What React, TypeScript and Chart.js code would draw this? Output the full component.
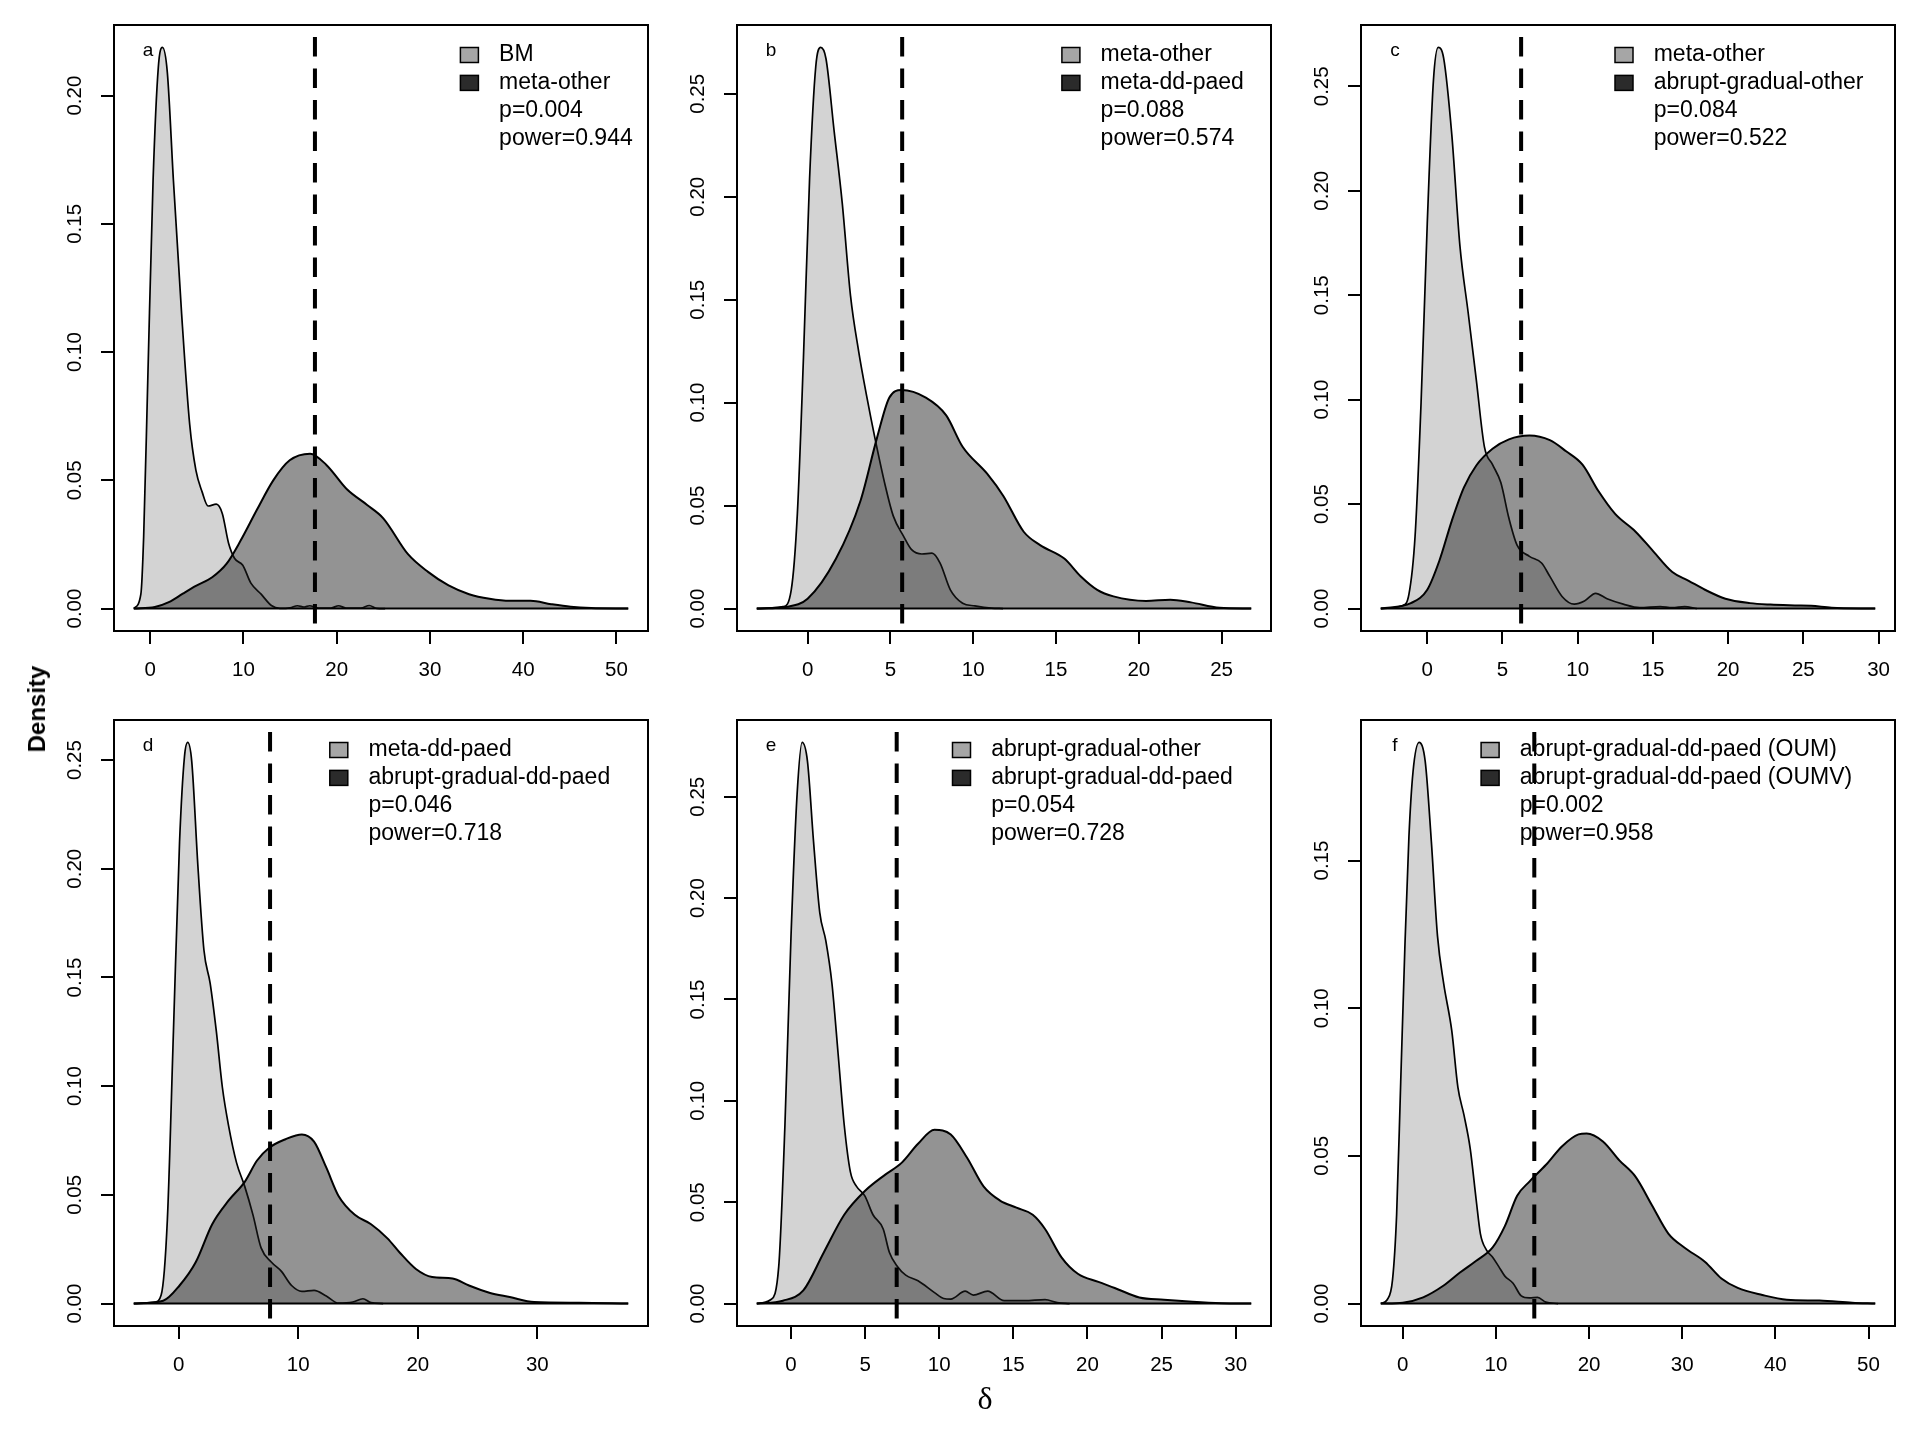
import React, { useEffect, useRef } from 'react';
import { Chart, registerables } from 'chart.js';

Chart.register(...registerables);
Chart.defaults.font.family = '"Liberation Sans", Arial, Helvetica, sans-serif';

type Pt = [number, number];

// ---------------- data ----------------
const panelLetters = ['a', 'b', 'c', 'd', 'e', 'f'];
const legendNull = ['BM', 'meta-other', 'meta-other', 'meta-dd-paed', 'abrupt-gradual-other', 'abrupt-gradual-dd-paed (OUM)'];
const legendAlt = ['meta-other', 'meta-dd-paed', 'abrupt-gradual-other', 'abrupt-gradual-dd-paed', 'abrupt-gradual-dd-paed', 'abrupt-gradual-dd-paed (OUMV)'];
const pLabels = ['p=0.004', 'p=0.088', 'p=0.084', 'p=0.046', 'p=0.054', 'p=0.002'];
const powerLabels = ['power=0.944', 'power=0.574', 'power=0.522', 'power=0.718', 'power=0.728', 'power=0.958'];
const observedDelta = [17.67, 5.71, 6.24, 7.64, 7.13, 14.12];
const deltaRange: Pt[] = [[-1.76, 51.27], [-3.07, 26.79], [-3.09, 29.78], [-3.76, 37.6], [-2.31, 31.05], [-2.36, 50.72]];

const xTicksA = [0, 10, 20, 30, 40, 50];
const xTicksB = [0, 5, 10, 15, 20, 25];
const xTicksC = [0, 5, 10, 15, 20, 25, 30];
const xTicksD = [0, 10, 20, 30];
const xTicksE = [0, 5, 10, 15, 20, 25, 30];
const xTicksF = [0, 10, 20, 30, 40, 50];
const yTicksA = [0, 0.05, 0.1, 0.15, 0.2];
const yTicksB = [0, 0.05, 0.1, 0.15, 0.2, 0.25];
const yTicksC = [0, 0.05, 0.1, 0.15, 0.2, 0.25];
const yTicksD = [0, 0.05, 0.1, 0.15, 0.2, 0.25];
const yTicksE = [0, 0.05, 0.1, 0.15, 0.2, 0.25];
const yTicksF = [0, 0.05, 0.1, 0.15];

const aNull: Pt[] = [[-1.76, 0], [-1.0, 0.0056], [-0.7, 0.028], [-0.26, 0.089], [0.31, 0.167], [0.87, 0.211], [1.31, 0.2188], [1.84, 0.209], [2.49, 0.167], [3.37, 0.115], [4.24, 0.0717], [4.9, 0.054], [5.56, 0.0456], [6.21, 0.040], [7.09, 0.0407], [7.74, 0.037], [8.4, 0.0256], [9.06, 0.0195], [9.93, 0.0169], [10.8, 0.0099], [11.9, 0.0056], [13.0, 0.0012], [13.9, 0.0001], [15.0, 0.0003], [15.8, 0.0011], [16.5, 0.0006], [17.1, 0.0011], [18.0, 0.0002], [19.4, 0.0002], [20.2, 0.0011], [21.0, 0.0002], [22.6, 0.0002], [23.5, 0.0012], [24.3, 0.0001], [25.2, 0]];
const aAlt: Pt[] = [[-1.76, 0], [0.5, 0.0006], [2.0, 0.0025], [3.5, 0.0058], [4.9, 0.0088], [6.65, 0.0122], [8.2, 0.0175], [9.7, 0.0265], [11.46, 0.0386], [13.2, 0.05], [14.96, 0.0578], [17.15, 0.0604], [18.9, 0.056], [21.1, 0.0465], [23.27, 0.0404], [25.0, 0.0352], [27.65, 0.0212], [29.8, 0.0143], [32.0, 0.009], [34.2, 0.0056], [36.4, 0.0038], [38.6, 0.003], [40.8, 0.003], [43.0, 0.0017], [45.1, 0.0007], [47.3, 0.0002], [51.27, 0]];

const bNull: Pt[] = [[-3.07, 0], [-1.48, 0.0009], [-0.99, 0.009], [-0.62, 0.046], [-0.25, 0.122], [0.12, 0.209], [0.49, 0.263], [0.79, 0.2725], [1.11, 0.267], [1.6, 0.232], [2.09, 0.197], [2.59, 0.152], [3.08, 0.125], [3.57, 0.103], [4.06, 0.083], [4.68, 0.060], [5.17, 0.045], [5.79, 0.0352], [6.28, 0.0286], [6.9, 0.0265], [7.51, 0.0269], [8.0, 0.0221], [8.62, 0.0091], [9.36, 0.0026], [10.1, 0.0013], [11.1, 0.0002], [11.8, 0]];
const bAlt: Pt[] = [[-3.07, 0], [-1.23, 0.0009], [0, 0.0048], [1.72, 0.0243], [3.2, 0.0525], [4.19, 0.0829], [4.93, 0.1024], [5.67, 0.1061], [7.14, 0.1024], [8.37, 0.0938], [9.36, 0.0786], [10.84, 0.0655], [11.82, 0.0547], [13.05, 0.0373], [14.04, 0.0308], [15.5, 0.0243], [16.5, 0.0156], [17.49, 0.0091], [18.47, 0.0059], [20.44, 0.0037], [21.9, 0.0043], [23.15, 0.003], [24.88, 0.0004], [26.79, 0]];

const cNull: Pt[] = [[-3.09, 0], [-1.63, 0.0015], [-1.22, 0.0068], [-0.81, 0.0346], [-0.41, 0.0988], [0, 0.1843], [0.41, 0.2528], [0.73, 0.2686], [1.09, 0.2635], [1.63, 0.227], [2.17, 0.1737], [2.72, 0.1416], [3.26, 0.1095], [3.8, 0.0774], [4.34, 0.0689], [4.89, 0.0603], [5.43, 0.0432], [5.97, 0.0304], [6.79, 0.025], [7.6, 0.0218], [8.15, 0.0154], [8.96, 0.0058], [9.77, 0.0021], [10.45, 0.0036], [11.19, 0.0073], [11.95, 0.0047], [13.03, 0.0021], [14.12, 0.0004], [15.48, 0.0009], [16.29, 0.0004], [17.1, 0.0009], [17.92, 0]];
const cAlt: Pt[] = [[-3.09, 0], [-1.09, 0.0026], [0, 0.009], [0.81, 0.023], [1.63, 0.042], [2.44, 0.058], [3.26, 0.0685], [4.34, 0.0765], [5.43, 0.081], [6.79, 0.0828], [8.15, 0.0806], [9.23, 0.0753], [10.32, 0.0689], [11.4, 0.056], [12.49, 0.0453], [13.85, 0.0368], [14.93, 0.0282], [16.29, 0.0175], [17.38, 0.0133], [18.46, 0.009], [19.82, 0.0047], [21.45, 0.0026], [22.81, 0.0019], [24.44, 0.0015], [25.52, 0.0013], [26.88, 0.0004], [29.78, 0]];

const dNull: Pt[] = [[-3.76, 0], [-1.98, 0.0007], [-1.47, 0.0039], [-0.95, 0.0387], [-0.44, 0.1255], [0.07, 0.2124], [0.48, 0.2515], [0.75, 0.2581], [1.09, 0.2493], [1.6, 0.2016], [2.11, 0.1625], [2.63, 0.1473], [3.14, 0.1255], [3.65, 0.0995], [4.16, 0.0821], [4.84, 0.0647], [5.52, 0.0539], [6.21, 0.0408], [6.89, 0.0256], [7.74, 0.0191], [8.59, 0.0148], [9.44, 0.0083], [10.3, 0.0056], [11.32, 0.0061], [12.34, 0.0035], [13.37, 0.0002], [14.56, 0.0007], [15.41, 0.0022], [16.09, 0.0004], [17.1, 0]];
const dAlt: Pt[] = [[-3.76, 0], [-1.3, 0.0013], [0.07, 0.0083], [1.43, 0.0191], [2.8, 0.0365], [4.16, 0.0473], [5.52, 0.056], [6.55, 0.0658], [7.57, 0.0717], [8.93, 0.0756], [10.3, 0.0778], [11.32, 0.0745], [12.34, 0.0626], [13.37, 0.0495], [14.73, 0.0408], [16.09, 0.0365], [17.46, 0.03], [18.48, 0.0235], [19.84, 0.0159], [21.2, 0.0122], [22.91, 0.0115], [24.28, 0.0083], [25.98, 0.005], [27.69, 0.003], [29.73, 0.0007], [33.48, 0.0004], [37.6, 0]];

const eNull: Pt[] = [[-2.31, 0], [-1.38, 0.0019], [-0.83, 0.0182], [-0.41, 0.0881], [0, 0.1813], [0.41, 0.2512], [0.75, 0.2768], [1.11, 0.2675], [1.52, 0.2279], [1.94, 0.1929], [2.35, 0.1789], [2.76, 0.158], [3.18, 0.123], [3.59, 0.0881], [4.01, 0.0648], [4.42, 0.0578], [4.98, 0.0531], [5.53, 0.0438], [6.22, 0.0368], [6.64, 0.0252], [7.19, 0.0182], [7.74, 0.014], [8.57, 0.0112], [9.68, 0.0054], [10.3, 0.0025], [10.78, 0.0022], [11.75, 0.0061], [12.3, 0.0042], [13.27, 0.0061], [14.38, 0.0014], [15.76, 0.0014], [17.14, 0.0019], [17.97, 0.0005], [18.8, 0]];
const eAlt: Pt[] = [[-2.31, 0], [-0.55, 0.0014], [0.83, 0.0065], [2.21, 0.0252], [3.59, 0.0438], [4.98, 0.0555], [6.36, 0.0636], [7.46, 0.0694], [8.57, 0.0788], [9.68, 0.0857], [10.78, 0.0834], [11.89, 0.0718], [12.99, 0.0578], [14.1, 0.0508], [15.21, 0.0473], [16.31, 0.0438], [17.14, 0.0368], [18.25, 0.0228], [19.35, 0.0147], [20.74, 0.0107], [21.84, 0.0077], [23.5, 0.003], [25.16, 0.0019], [27.09, 0.0009], [29.03, 0.0002], [31.05, 0]];

const fNull: Pt[] = [[-2.36, 0], [-1.67, 0.0013], [-1.1, 0.008], [-0.66, 0.03], [-0.22, 0.075], [0.22, 0.12], [0.66, 0.158], [1.1, 0.18], [1.75, 0.19], [2.41, 0.1836], [3.07, 0.1564], [3.73, 0.1244], [4.39, 0.1084], [5.26, 0.0924], [5.92, 0.0732], [6.58, 0.0637], [7.24, 0.0525], [7.89, 0.0349], [8.33, 0.0237], [8.99, 0.0181], [9.65, 0.0157], [10.31, 0.0125], [10.96, 0.0093], [11.84, 0.0069], [12.72, 0.0026], [13.6, 0.0019], [14.47, 0.0021], [15.35, 0.0005], [16.67, 0]];
const fAlt: Pt[] = [[-2.36, 0], [0, 0.0003], [2.19, 0.0021], [4.39, 0.0061], [6.14, 0.0105], [7.89, 0.0145], [9.65, 0.019], [10.96, 0.0262], [12.28, 0.0365], [13.6, 0.0413], [15.35, 0.0469], [17.11, 0.0533], [18.86, 0.0573], [19.74, 0.0576], [21.49, 0.0549], [23.25, 0.0485], [25.0, 0.0429], [26.75, 0.0333], [28.51, 0.0237], [30.26, 0.0189], [32.46, 0.0141], [34.21, 0.0085], [35.96, 0.0053], [38.6, 0.0029], [41.23, 0.0013], [44.74, 0.001], [48.25, 0.0003], [50.72, 0]];

const nullSeries = [aNull, bNull, cNull, dNull, eNull, fNull];
const altSeries = [aAlt, bAlt, cAlt, dAlt, eAlt, fAlt];
const xTickSets = [xTicksA, xTicksB, xTicksC, xTicksD, xTicksE, xTicksF];
const yTickSets = [yTicksA, yTicksB, yTicksC, yTicksD, yTicksE, yTicksF];

// ---------------- layout / style ----------------
const BOX_LEFTS = [114, 737, 1361];
const BOX_TOPS = [25, 720];
const BOX_W = 534;
const BOX_H = 606;
const PAD_L = 110;
const PAD_T = 20;
const PAD_R = 20;
const PAD_B = 75;
const LEGEND_X = [346.4, 324.9, 254, 215.8, 215.5, 120.1];
const FONT = '"Liberation Sans", Arial, Helvetica, sans-serif';
const NULL_FILL = '#d3d3d3';
const ALT_FILL = 'rgba(30,30,30,0.48)';
const LEG_NULL = '#a6a6a6';
const LEG_ALT = '#2b2b2b';

function Panel({ idx }: { idx: number }) {
  const ref = useRef<HTMLCanvasElement | null>(null);
  const col = idx % 3;
  const row = Math.floor(idx / 3);
  const w = PAD_L + BOX_W + PAD_R;
  const h = PAD_T + BOX_H + PAD_B;

  useEffect(() => {
    const canvas = ref.current;
    if (!canvas) return;
    const nullPts = nullSeries[idx];
    const altPts = altSeries[idx];
    const [x0, x1] = deltaRange[idx];
    const span = x1 - x0;
    const peak = Math.max(...nullPts.map((p) => p[1]), ...altPts.map((p) => p[1]));
    const yMin = -0.04 * peak;
    const yMax = 1.04 * peak;

    const framePlugin = {
      id: 'frame' + idx,
      beforeDatasetsDraw(chart: any) {
        const { ctx, chartArea } = chart;
        const L = chartArea.left;
        const T = chartArea.top;
        ctx.save();
        ctx.fillStyle = '#000';
        ctx.font = `19px ${FONT}`;
        ctx.textAlign = 'center';
        ctx.textBaseline = 'alphabetic';
        ctx.fillText(panelLetters[idx], L + 34, T + 31);
        const lx = L + LEGEND_X[idx];
        const rows = [legendNull[idx], legendAlt[idx], pLabels[idx], powerLabels[idx]];
        ctx.font = `23px ${FONT}`;
        ctx.textAlign = 'left';
        ctx.textBaseline = 'middle';
        rows.forEach((txt, i) => {
          const cy = T + 30 + 27.9 * i;
          if (i < 2) {
            ctx.fillStyle = i === 0 ? LEG_NULL : LEG_ALT;
            ctx.fillRect(lx, cy - 7.5, 18, 15);
            ctx.strokeStyle = '#000';
            ctx.lineWidth = 1.5;
            ctx.strokeRect(lx, cy - 7.5, 18, 15);
          }
          ctx.fillStyle = '#000';
          ctx.fillText(txt, lx + 38.7, cy);
        });
        ctx.restore();
      },
      afterDraw(chart: any) {
        const { ctx, chartArea } = chart;
        ctx.save();
        ctx.strokeStyle = '#000';
        ctx.lineWidth = 2;
        ctx.strokeRect(chartArea.left, chartArea.top, chartArea.right - chartArea.left, chartArea.bottom - chartArea.top);
        ctx.restore();
      },
    };

    const chart = new Chart(canvas, {
      type: 'line',
      data: {
        datasets: [
          {
            label: 'observed',
            data: [{ x: observedDelta[idx], y: yMax }, { x: observedDelta[idx], y: yMin }],
            borderColor: '#000',
            borderWidth: 4,
            borderDash: [19.5, 12],
            borderDashOffset: 19.5,
            pointRadius: 0,
            fill: false,
            order: 0,
          },
          {
            label: 'baseline',
            data: [{ x: x0, y: 0 }, { x: x1, y: 0 }],
            borderColor: '#000',
            borderWidth: 2,
            pointRadius: 0,
            fill: false,
            order: 1,
          },
          {
            label: legendAlt[idx],
            data: altPts.map(([x, y]) => ({ x, y })),
            borderColor: '#000',
            borderWidth: 2,
            backgroundColor: ALT_FILL,
            fill: 'origin',
            cubicInterpolationMode: 'monotone',
            pointRadius: 0,
            order: 2,
          },
          {
            label: legendNull[idx],
            data: nullPts.map(([x, y]) => ({ x, y })),
            borderColor: '#000',
            borderWidth: 1.7,
            backgroundColor: NULL_FILL,
            fill: 'origin',
            cubicInterpolationMode: 'monotone',
            pointRadius: 0,
            order: 3,
          },
        ],
      },
      options: {
        responsive: false,
        animation: false,
        events: [],
        layout: { padding: { left: 0, top: PAD_T, right: PAD_R, bottom: 0 } },
        plugins: { legend: { display: false }, tooltip: { enabled: false } },
        scales: {
          x: {
            type: 'linear',
            min: x0 - 0.04 * span,
            max: x1 + 0.04 * span,
            afterBuildTicks: (s: any) => {
              s.ticks = xTickSets[idx].map((v) => ({ value: v }));
            },
            afterFit: (s: any) => {
              s.height = PAD_B;
            },
            grid: { drawOnChartArea: false, drawTicks: true, tickLength: 13, color: '#000', lineWidth: 2 },
            border: { display: false },
            ticks: {
              color: '#000',
              font: { size: 20.5 },
              padding: 14,
              maxRotation: 0,
              minRotation: 0,
              autoSkip: false,
              callback: (v: any) => String(v),
            },
          },
          y: {
            type: 'linear',
            min: yMin,
            max: yMax,
            afterBuildTicks: (s: any) => {
              s.ticks = yTickSets[idx].map((v) => ({ value: v }));
            },
            afterFit: (s: any) => {
              s.width = PAD_L;
            },
            grid: { drawOnChartArea: false, drawTicks: true, tickLength: 13, color: '#000', lineWidth: 2 },
            border: { display: false },
            ticks: {
              color: '#000',
              font: { size: 20.5 },
              padding: 6,
              minRotation: 90,
              maxRotation: 90,
              crossAlign: 'center',
              autoSkip: false,
              callback: (v: any) => Number(v).toFixed(2),
            },
          },
        },
      },
      plugins: [framePlugin],
    } as any);
    return () => chart.destroy();
  }, [idx]);

  return (
    <canvas
      ref={ref}
      width={w}
      height={h}
      style={{
        position: 'absolute',
        left: BOX_LEFTS[col] - PAD_L,
        top: BOX_TOPS[row] - PAD_T,
        width: w,
        height: h,
      }}
    />
  );
}

export default function App() {
  return (
    <div
      style={{
        position: 'absolute',
        left: 0,
        top: 0,
        width: 1920,
        height: 1440,
        background: '#fff',
        overflow: 'hidden',
      }}
    >
      {[0, 1, 2, 3, 4, 5].map((i) => (
        <Panel key={i} idx={i} />
      ))}
      <div
        style={{
          position: 'absolute',
          left: 37,
          top: 709,
          transform: 'translate(-50%, -50%) rotate(-90deg)',
          font: `bold 24px ${FONT}`,
          whiteSpace: 'nowrap',
          color: '#000',
        }}
      >
        Density
      </div>
      <div
        style={{
          position: 'absolute',
          left: 985,
          top: 1398,
          transform: 'translate(-50%, -50%)',
          font: '32px "Liberation Serif", "Times New Roman", serif',
          color: '#000',
          lineHeight: 1,
        }}
      >
        δ
      </div>
    </div>
  );
}
